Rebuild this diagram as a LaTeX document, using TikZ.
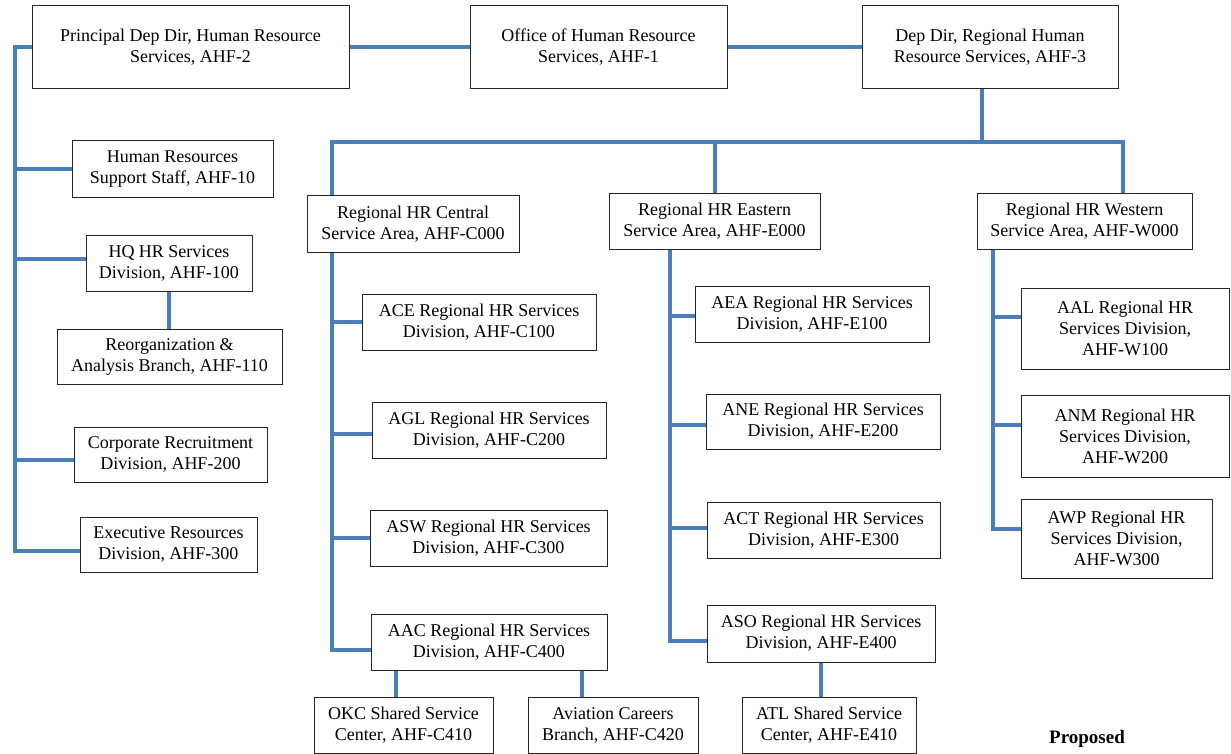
\documentclass[tikz,border=0pt]{standalone}
\usepackage{fontspec}
\setmainfont{Liberation Serif}
\newfontfamily\orgfont{Liberation Serif}
\usepackage{tikz}
\usetikzlibrary{positioning, calc, backgrounds}
\definecolor{orgblue}{RGB}{74,126,187}
\tikzset{
  box/.style ={draw=black!85, line width=1pt, fill=white, align=center, inner sep=2pt,
               font=\orgfont\fontsize{18}{21}\selectfont},
  sz/.style 2 args={minimum width=#1pt, minimum height=#2pt},
  link/.style ={draw=orgblue, line width=4pt},
  lbl/.style  ={font=\orgfont\fontsize{19}{22}\selectfont\bfseries},
}

\begin{document}
\begin{tikzpicture}[x=1pt, y=-1pt]
  \useasboundingbox (0,0) rectangle (1231,754);
  % top row
  \node[box, sz={317}{83}] (PDD) at (190.5,47.5) {Principal Dep Dir, Human Resource\\Services, AHF-2};
  \node[box, sz={257}{83}] (OHR) at (598.5,47.5) {Office of Human Resource\\Services, AHF-1};
  \node[box, sz={256}{83}] (DDR) at (990,47.5)   {Dep Dir, Regional Human\\Resource Services, AHF-3};
  % HQ side
  \node[box, sz={201}{57}] (HRSS)  at (172.5,169.5) {Human Resources\\Support Staff, AHF-10};
  \node[box, sz={166}{56}] (HQ)    at (169,263)     {HQ HR Services\\Division, AHF-100};
  \node[box, sz={225}{55}] (REORG) at (169.5,356.5) {Reorganization \&\\Analysis Branch, AHF-110};
  \node[box, sz={193}{55}] (CORP)  at (170.5,454.5) {Corporate Recruitment\\Division, AHF-200};
  \node[box, sz={177}{55}] (EXEC)  at (168.5,544.5) {Executive Resources\\Division, AHF-300};
  % central
  \node[box, sz={212}{56}] (C000) at (413,224)   {Regional HR Central\\Service Area, AHF-C000};
  \node[box, sz={234}{56}] (C100) at (479,322)   {ACE Regional HR Services\\Division, AHF-C100};
  \node[box, sz={234}{56}] (C200) at (489,430)   {AGL Regional HR Services\\Division, AHF-C200};
  \node[box, sz={237}{56}] (C300) at (488.5,538) {ASW Regional HR Services\\Division, AHF-C300};
  \node[box, sz={236}{56}] (C400) at (489,642)   {AAC Regional HR Services\\Division, AHF-C400};
  \node[box, sz={179}{56}] (C410) at (403.5,725) {OKC Shared Service\\Center, AHF-C410};
  \node[box, sz={170}{56}] (C420) at (613,725)   {Aviation Careers\\Branch, AHF-C420};
  % eastern
  \node[box, sz={211}{55}] (E000) at (714.5,221.5) {Regional HR Eastern\\Service Area, AHF-E000};
  \node[box, sz={234}{56}] (E100) at (812,314)     {AEA Regional HR Services\\Division, AHF-E100};
  \node[box, sz={234}{55}] (E200) at (823,421.5)   {ANE Regional HR Services\\Division, AHF-E200};
  \node[box, sz={233}{56}] (E300) at (823.5,530)   {ACT Regional HR Services\\Division, AHF-E300};
  \node[box, sz={228}{57}] (E400) at (821,633.5)   {ASO Regional HR Services\\Division, AHF-E400};
  \node[box, sz={174}{56}] (E410) at (829,725)     {ATL Shared Service\\Center, AHF-E410};
  % western
  \node[box, sz={215}{55}] (W000) at (1084.5,221.5) {Regional HR Western\\Service Area, AHF-W000};
  \node[box, sz={208}{81}] (W100) at (1125,328.5)   {AAL Regional HR\\Services Division,\\AHF-W100};
  \node[box, sz={208}{82}] (W200) at (1125,436)     {ANM Regional HR\\Services Division,\\AHF-W200};
  \node[box, sz={191}{79}] (W300) at (1116.5,538.5) {AWP Regional HR\\Services Division,\\AHF-W300};

  \node[lbl] (PROP) at (1087,739) {Proposed};

  % spine ends and drop points
  \coordinate (hrL)   at (15,551);
  \coordinate (cenB)  at (332,650);
  \coordinate (eastB) at (670,641);
  \coordinate (westB) at (993,529);
  \coordinate (bus)   at (982,142);
  \coordinate (busR)  at (1123,142);
  \coordinate (c410T) at (396,697);
  \coordinate (c420T) at (582,697);
  \coordinate (e410T) at (821,697);

  \begin{scope}[on background layer]
    \fill[white] (0,0) rectangle (1231,754);
    \draw[link] (PDD.east) -- (OHR.west);
    \draw[link] (OHR.east) -- (DDR.west);
    \draw[link] (PDD.west) -| (hrL) -- (hrL -| EXEC.west);
    \draw[link] (HRSS.west) -| (hrL);
    \draw[link] ([yshift=4pt]HQ.west) -| (hrL);
    \draw[link] ([yshift=-5pt]CORP.west) -| (hrL);
    \draw[link] (HQ.south) -- (HQ.south |- REORG.north);
    % regional bus
    \draw[link] (DDR.south -| bus) -- (bus);
    \draw[link] (C000.north -| cenB) |- (busR) -- (busR |- W000.north);
    \draw[link] (E000.north) -- (E000.north |- bus);
    % central
    \draw[link] (C000.south -| cenB) -- (cenB) -- (cenB -| C400.west);
    \draw[link] (C100.west) -| (cenB);
    \draw[link] ([yshift=-4pt]C200.west) -| (cenB);
    \draw[link] (C300.west) -| (cenB);
    \draw[link] (c410T) -- (c410T |- C400.south);
    \draw[link] (c420T) -- (c420T |- C400.south);
    % eastern
    \draw[link] (E000.south -| eastB) |- (eastB -| E400.west);
    \draw[link] ([yshift=-2pt]E100.west) -| (eastB);
    \draw[link] ([yshift=-3pt]E200.west) -| (eastB);
    \draw[link] ([yshift=2pt]E300.west) -| (eastB);
    \draw[link] (e410T) -- (e410T |- E400.south);
    % western
    \draw[link] (W000.south -| westB) |- (westB -| W300.west);
    \draw[link] ([yshift=12pt]W100.west) -| (westB);
    \draw[link] ([yshift=11pt]W200.west) -| (westB);
  \end{scope}
\end{tikzpicture}
\end{document}
